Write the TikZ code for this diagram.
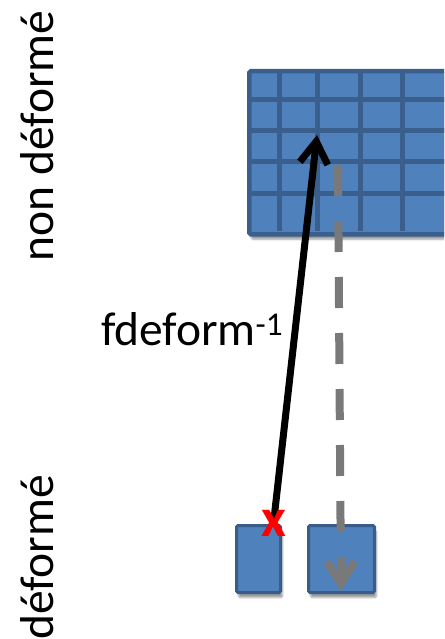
\documentclass[tikz,border=0pt]{standalone}
\usepackage{fontspec}
\setmainfont{Carlito}
\usetikzlibrary{arrows.meta, shadows.blur}

\definecolor{cellblue}{HTML}{4F81BD}
\definecolor{boxline}{HTML}{385D8A}
\definecolor{gridline}{HTML}{3A5F8C}

\begin{document}
\begin{tikzpicture}[x=1pt, y=-1pt,
  box/.style={draw=boxline, fill=cellblue, line width=3pt, rounded corners=1.5pt, inner sep=0pt,
    blur shadow={shadow xshift=2pt, shadow yshift=-5pt, shadow opacity=40}},
  lbl/.style={font=\fontsize{47.5}{56}\selectfont, inner sep=0pt},
  redx/.style={text=red, font=\fontsize{54}{58}\selectfont\bfseries, inner sep=0pt},
  fwd/.style={line width=7pt, -{Straight Barb[length=22pt, width=28pt]}},
  back/.style={gray!95!black, line width=8pt, dash pattern=on 31pt off 25pt, -{Straight Barb[length=22pt, width=28pt]}}]
  \useasboundingbox (0,0) rectangle (444,639);
  \clip (0,0) rectangle (444,639);

  % Grid (non deforme)
  \node[box, draw=gridline, line width=4.5pt, anchor=north west, minimum width=200pt, minimum height=163pt] (grid) at (247,69) {};
  \foreach \x in {279,317,360,402}
    \draw[gridline, line width=5pt] (\x,69) -- (\x,231);
  \foreach \y in {99.5,130.5,161.7,193.5}
    \draw[gridline, line width=5pt] (247,\y) -- (446,\y);

  % Boxes (deforme)
  \node[box, minimum width=44pt, minimum height=67pt] (lbox) at (258.5,559) {};
  \node[box, minimum width=66pt, minimum height=67pt] (rbox) at (341.5,559) {};

  % Points
  \coordinate (src) at (338,165);
  \coordinate (dst) at (341,591);
  \coordinate (tgt) at (317,135);
  \coordinate (cross) at (274,523);

  % Arrows
  \draw[back] (src) -- (dst);
  \draw[fwd] ([yshift=4pt]cross) -- (tgt);
  \node[redx] (xmark) at (cross) {x};

  % Labels
  \node[lbl, rotate=90, anchor=base] (top) at (53,136) {non déformé};
  \node[lbl, rotate=90, anchor=base] (bot) at (53,557.5) {déformé};
  \node[lbl, anchor=base west] (fname) at (101,345) {fdeform\textsuperscript{-1}};
\end{tikzpicture}
\end{document}
